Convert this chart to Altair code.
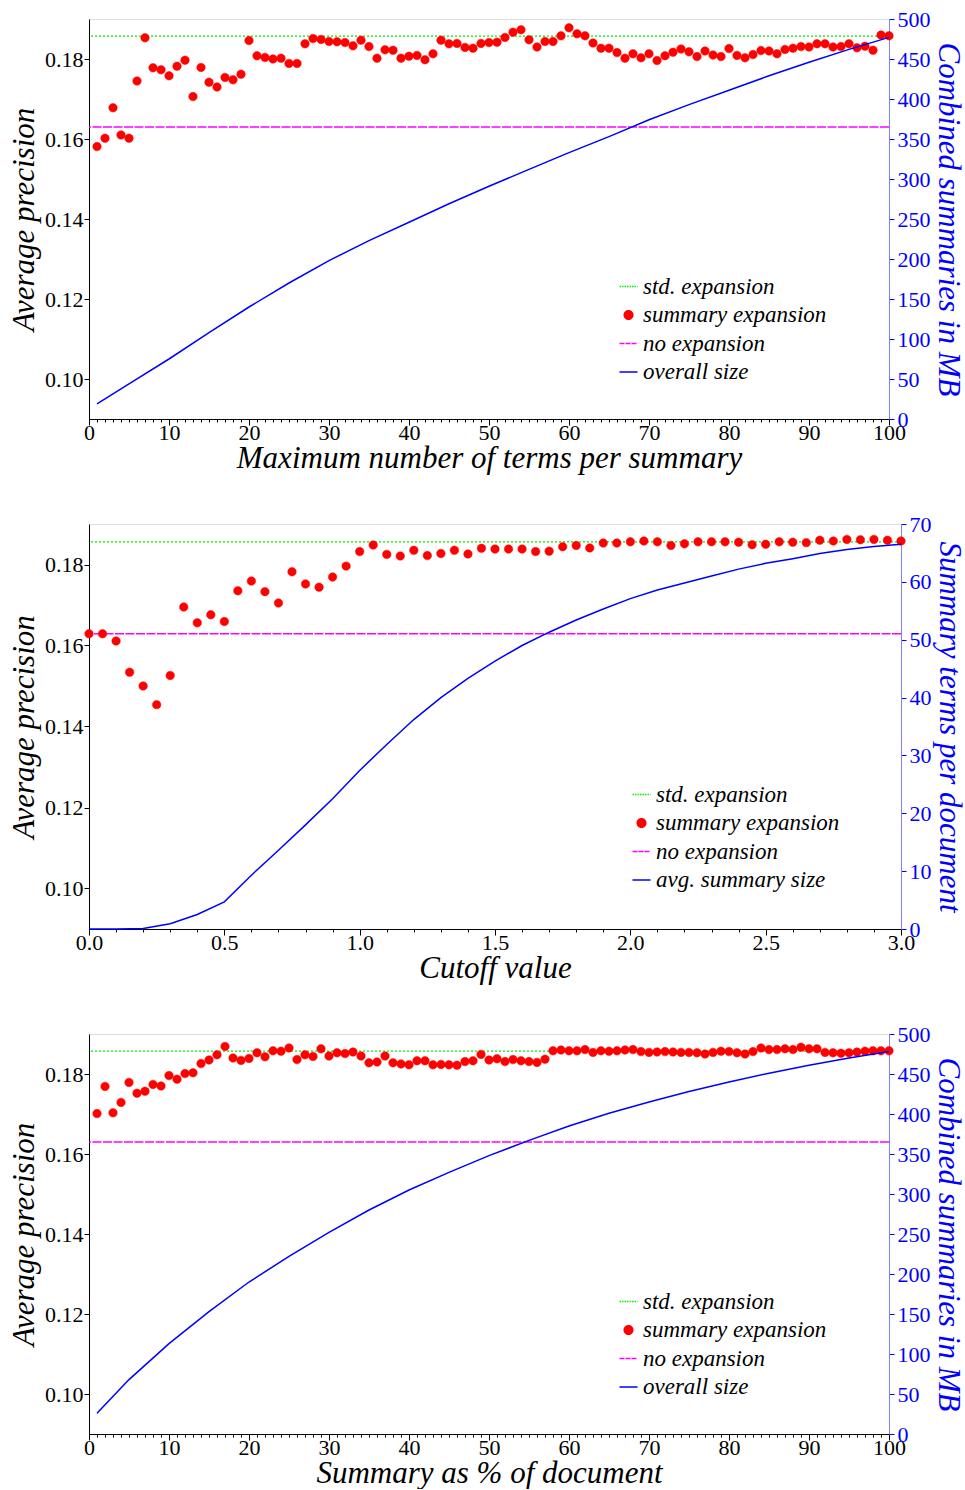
import altair as alt
import pandas as pd

# ---------------- Panel 1: maximum number of terms per summary ----------------
p1_terms = list(range(1, 101))
p1_ap = [0.1581, 0.1602, 0.1678, 0.1610, 0.1602, 0.1745, 0.1853, 0.1778, 0.1773, 0.1758,
         0.1782, 0.1797, 0.1706, 0.1779, 0.1742, 0.1730, 0.1754, 0.1748, 0.1762, 0.1846,
         0.1808, 0.1804, 0.1800, 0.1802, 0.1789, 0.1789, 0.1838, 0.1851, 0.1849, 0.1844,
         0.1843, 0.1841, 0.1833, 0.1847, 0.1831, 0.1802, 0.1823, 0.1822, 0.1802, 0.1807,
         0.1809, 0.1798, 0.1813, 0.1847, 0.1838, 0.1839, 0.1829, 0.1827, 0.1839, 0.1841,
         0.1842, 0.1854, 0.1867, 0.1873, 0.1848, 0.1830, 0.1844, 0.1844, 0.1858, 0.1878,
         0.1863, 0.1858, 0.1840, 0.1827, 0.1827, 0.1816, 0.1802, 0.1813, 0.1803, 0.1813,
         0.1796, 0.1808, 0.1817, 0.1825, 0.1818, 0.1806, 0.1820, 0.1810, 0.1806, 0.1826,
         0.1809, 0.1803, 0.1811, 0.1821, 0.1820, 0.1813, 0.1824, 0.1827, 0.1831, 0.1830,
         0.1838, 0.1838, 0.1830, 0.1831, 0.1838, 0.1828, 0.1832, 0.1822, 0.1860, 0.1858]
p1_size_x = [1, 5, 10, 15, 20, 25, 30, 35, 40, 45, 50, 55, 60, 65, 70, 75, 80, 85, 90, 95, 100]
p1_size_mb = [19, 44, 75, 108, 140, 170, 198, 223, 246, 269, 291, 312, 333, 353, 374, 393,
              411, 429, 446, 462, 477]
p1_std = 0.1857
p1_noexp = 0.1630

# ---------------- Panel 2: cutoff value ----------------
p2_cutoff = [0.00, 0.05, 0.10, 0.15, 0.20, 0.25, 0.30, 0.35, 0.40, 0.45, 0.50, 0.55, 0.60,
             0.65, 0.70, 0.75, 0.80, 0.85, 0.90, 0.95, 1.00, 1.05, 1.10, 1.15, 1.20, 1.25,
             1.30, 1.35, 1.40, 1.45, 1.50, 1.55, 1.60, 1.65, 1.70, 1.75, 1.80, 1.85, 1.90,
             1.95, 2.00, 2.05, 2.10, 2.15, 2.20, 2.25, 2.30, 2.35, 2.40, 2.45, 2.50, 2.55,
             2.60, 2.65, 2.70, 2.75, 2.80, 2.85, 2.90, 2.95, 3.00]
p2_ap = [0.1629, 0.1629, 0.1611, 0.1534, 0.1500, 0.1454, 0.1526, 0.1695, 0.1656, 0.1676,
         0.1659, 0.1735, 0.1759, 0.1733, 0.1705, 0.1782, 0.1752, 0.1744, 0.1769, 0.1796,
         0.1832, 0.1848, 0.1825, 0.1821, 0.1835, 0.1822, 0.1827, 0.1835, 0.1826, 0.1840,
         0.1838, 0.1838, 0.1838, 0.1832, 0.1833, 0.1844, 0.1847, 0.1841, 0.1853, 0.1853,
         0.1856, 0.1858, 0.1856, 0.1847, 0.1851, 0.1856, 0.1856, 0.1856, 0.1855, 0.1849,
         0.1850, 0.1856, 0.1855, 0.1854, 0.1860, 0.1858, 0.1862, 0.1861, 0.1862, 0.1860,
         0.1858]
p2_size_x = [0.0, 0.1, 0.2, 0.3, 0.4, 0.5, 0.6, 0.7, 0.8, 0.9, 1.0, 1.1, 1.2, 1.3, 1.4, 1.5,
             1.6, 1.7, 1.8, 1.9, 2.0, 2.1, 2.2, 2.3, 2.4, 2.5, 2.6, 2.7, 2.8, 2.9, 3.0]
p2_size_terms = [0.0, 0.0, 0.1, 0.9, 2.5, 4.7, 9.3, 13.6, 18.0, 22.5, 27.4, 31.9, 36.2, 40.0,
                 43.3, 46.3, 49.0, 51.3, 53.4, 55.3, 57.1, 58.6, 59.8, 61.0, 62.2, 63.2,
                 64.0, 64.9, 65.6, 66.1, 66.5]
p2_std = 0.1856
p2_noexp = 0.1629

# ---------------- Panel 3: summary as % of document ----------------
p3_pct = list(range(1, 101))
p3_ap = [0.1701, 0.1769, 0.1703, 0.1729, 0.1779, 0.1752, 0.1757, 0.1774, 0.1770, 0.1796,
         0.1787, 0.1801, 0.1803, 0.1826, 0.1835, 0.1848, 0.1869, 0.1840, 0.1834, 0.1839,
         0.1853, 0.1843, 0.1858, 0.1857, 0.1865, 0.1836, 0.1848, 0.1844, 0.1863, 0.1845,
         0.1853, 0.1851, 0.1855, 0.1845, 0.1828, 0.1830, 0.1845, 0.1828, 0.1825, 0.1823,
         0.1833, 0.1833, 0.1823, 0.1824, 0.1823, 0.1822, 0.1831, 0.1833, 0.1849, 0.1835,
         0.1838, 0.1831, 0.1836, 0.1833, 0.1831, 0.1829, 0.1837, 0.1858, 0.1860, 0.1858,
         0.1858, 0.1861, 0.1854, 0.1858, 0.1857, 0.1858, 0.1860, 0.1861, 0.1856, 0.1854,
         0.1855, 0.1856, 0.1855, 0.1854, 0.1854, 0.1853, 0.1850, 0.1854, 0.1857, 0.1856,
         0.1853, 0.1850, 0.1856, 0.1865, 0.1861, 0.1861, 0.1863, 0.1861, 0.1867, 0.1863,
         0.1863, 0.1854, 0.1853, 0.1852, 0.1853, 0.1855, 0.1857, 0.1858, 0.1858, 0.1858]
p3_size_x = [1, 5, 10, 15, 20, 25, 30, 35, 40, 45, 50, 55, 60, 65, 70, 75, 80, 85, 90, 95, 100]
p3_size_mb = [26, 68, 113, 153, 190, 222, 252, 280, 305, 327, 348, 367, 385, 401, 415, 428,
              440, 451, 461, 470, 478]
p3_std = 0.1857
p3_noexp = 0.1630

labels_mb = ["std. expansion", "summary expansion", "no expansion", "overall size"]
labels_terms = ["std. expansion", "summary expansion", "no expansion", "avg. summary size"]

FONT = "Liberation Serif"
GREEN = "#00ee00"
RED = "#ff0000"
MAGENTA = "#ff00ff"
BLUE = "#0000ff"
LEFT_TICKS = [0.10, 0.12, 0.14, 0.16, 0.18]


def make_panel(x_pts, ap, x_line, line_vals, std_val, noexp_val, labels, x_title,
               right_title, x_domain, x_major, x_minor, x_format, r_domain, r_ticks,
               w, h, lx, ly):
    pts = pd.DataFrame({"x": x_pts, "ap": ap, "series": [labels[1]] * len(x_pts)})
    line = pd.DataFrame({"x": x_line, "v": line_vals})
    std_df = pd.DataFrame({"ap": [std_val]})
    no_df = pd.DataFrame({"ap": [noexp_val]})

    xs = alt.Scale(domain=x_domain, nice=False, zero=False)
    ys = alt.Scale(domain=[0.09, 0.19], nice=False, zero=False)

    y_axis = alt.Axis(
        title="Average precision", values=LEFT_TICKS, format=".2f", orient="left",
        grid=False, domainColor="black", tickColor="black", tickSize=5,
        labelFont=FONT, labelFontSize=22, labelColor="black", labelPadding=1,
        titleFont=FONT, titleFontSize=31, titleFontStyle="italic", titleFontWeight="normal",
        titleColor="black", titlePadding=4,
    )
    x_axis = alt.Axis(
        title=x_title, values=x_major, format=x_format, orient="bottom", grid=False,
        domainColor="black", tickColor="black", tickSize=6, labelFont=FONT,
        labelFontSize=22, labelColor="black", labelPadding=-3, labelFlush=False,
        labelOverlap=False,
        titleFont=FONT, titleFontSize=31, titleFontStyle="italic", titleFontWeight="normal",
        titleColor="black", titlePadding=0,
    )
    x_minor_axis = alt.Axis(
        title=None, values=x_minor, labels=False, domain=False, grid=False, orient="bottom",
        tickColor="black", tickSize=3,
    )
    r_axis = alt.Axis(
        title=right_title, values=r_ticks, orient="right", grid=False,
        domainColor="#7f7fff", tickColor=BLUE, tickSize=5, labelFont=FONT,
        labelFontSize=22, labelColor=BLUE, labelPadding=3, labelFlush=False,
        labelOverlap=False,
        titleFont=FONT, titleFontSize=31, titleFontStyle="italic", titleFontWeight="normal",
        titleColor=BLUE, titlePadding=1,
    )
    legend = alt.Legend(
        title=None, orient="none", legendX=lx, legendY=ly, padding=0,
        labelFont=FONT, labelFontStyle="italic", labelFontSize=23, labelColor="black",
        labelOffset=3, rowPadding=4.5, symbolStrokeWidth=1.6, symbolOpacity=1,
        labelLimit=400,
    )

    std_rule = alt.Chart(std_df).mark_rule(
        color=GREEN, strokeDash=[2, 2], strokeWidth=1.3
    ).encode(y=alt.Y("ap:Q", scale=ys, axis=y_axis))
    no_rule = alt.Chart(no_df).mark_rule(
        color=MAGENTA, strokeDash=[9, 1.5], strokeWidth=1.5
    ).encode(y=alt.Y("ap:Q", scale=ys, axis=y_axis))
    points = alt.Chart(pts).mark_point(filled=True, opacity=1, strokeWidth=0.5).encode(
        x=alt.X("x:Q", scale=xs, axis=x_axis),
        y=alt.Y("ap:Q", scale=ys, axis=y_axis),
        color=alt.Color("series:N", scale=alt.Scale(domain=labels,
                                                    range=[GREEN, RED, MAGENTA, BLUE]),
                        legend=legend),
        stroke=alt.Stroke("series:N", scale=alt.Scale(domain=labels,
                                                      range=[GREEN, RED, MAGENTA, BLUE]),
                          legend=legend),
        shape=alt.Shape("series:N", scale=alt.Scale(domain=labels,
                                                    range=["stroke", "circle", "stroke", "stroke"]),
                        legend=legend),
        size=alt.Size("series:N", scale=alt.Scale(type="ordinal", domain=labels,
                                                  range=[324, 72, 324, 324]),
                      legend=legend),
        strokeDash=alt.StrokeDash("series:N",
                                  scale=alt.Scale(domain=labels,
                                                  range=[[1.5, 1], [1, 0], [5, 1], [1, 0]]),
                                  legend=legend),
    )
    left = alt.layer(std_rule, no_rule, points)
    blue = alt.Chart(line).mark_line(color=BLUE, strokeWidth=1.5).encode(
        x=alt.X("x:Q", scale=xs, axis=x_minor_axis),
        y=alt.Y("v:Q", scale=alt.Scale(domain=r_domain, nice=False, zero=False), axis=r_axis),
    )
    return (
        alt.layer(left, blue)
        .resolve_scale(y="independent")
        .resolve_axis(x="independent", y="independent")
        .properties(width=w, height=h)
    )


p1 = make_panel(p1_terms, p1_ap, p1_size_x, p1_size_mb, p1_std, p1_noexp, labels_mb,
                "Maximum number of terms per summary", "Combined summaries in MB",
                [0, 100], list(range(0, 101, 10)), list(range(0, 101)), "d",
                [0, 500], list(range(0, 501, 50)), 800, 400, 528, 256)
p2 = make_panel(p2_cutoff, p2_ap, p2_size_x, p2_size_terms, p2_std, p2_noexp, labels_terms,
                "Cutoff value", "Summary terms per document",
                [0, 3.0], [0.0, 0.5, 1.0, 1.5, 2.0, 2.5, 3.0], p2_size_x, ".1f",
                [0, 70], list(range(0, 71, 10)), 812, 405, 541, 259)
p3 = make_panel(p3_pct, p3_ap, p3_size_x, p3_size_mb, p3_std, p3_noexp, labels_mb,
                "Summary as % of document", "Combined summaries in MB",
                [0, 100], list(range(0, 101, 10)), list(range(0, 101)), "d",
                [0, 500], list(range(0, 501, 50)), 800, 400, 528, 256)

chart = (
    alt.vconcat(p1, p2, p3, spacing=38)
    .resolve_scale(x="independent", y="independent", color="independent",
                   stroke="independent", shape="independent", size="independent",
                   strokeDash="independent")
    .resolve_legend(color="independent", stroke="independent", shape="independent",
                    size="independent", strokeDash="independent")
    .properties(padding={"left": 8, "top": 7, "right": 0, "bottom": 0}, background="white")
    .configure_view(stroke=None)
    .configure(font=FONT)
)

chart.save("out.html", embed_options={"renderer": "svg", "actions": False})
